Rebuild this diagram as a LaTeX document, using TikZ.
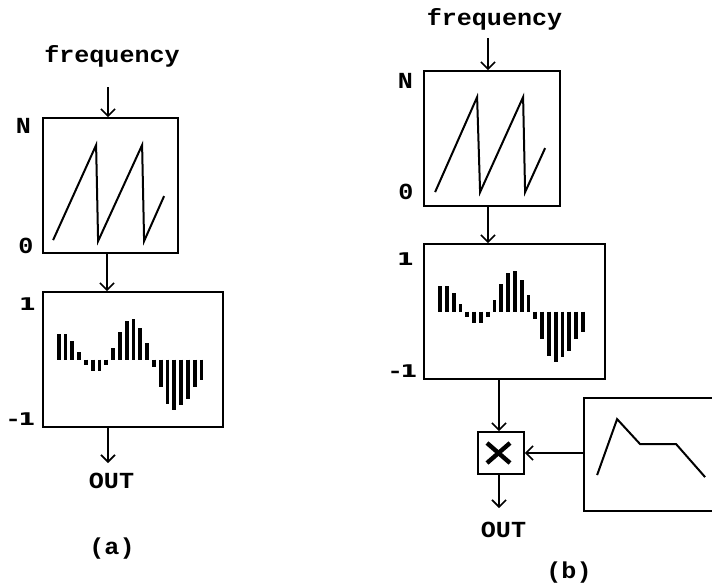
\documentclass[tikz,border=0pt]{standalone}
\usepackage{fontspec}
\usepackage{graphicx}
\usetikzlibrary{arrows.meta}
\newfontfamily\cour{Liberation Mono}[FakeStretch=1.09]
\newfontfamily\numfont{DejaVu Sans}
\newcommand{\widenum}[1]{\scalebox{1.4}[1]{#1}}
\tikzset{
  blk/.style={draw, line width=1.8pt, inner sep=0pt, minimum width=135pt, minimum height=135pt},
  wide/.style={blk, minimum width=180pt},
  arr/.style={line width=1.6pt, -{Straight Barb[length=7pt,width=14pt,line width=1.6pt]}},
  wave/.style={line width=2pt, line join=miter},
  bar/.style={line width=3.8pt, line cap=butt},
  txt/.style={font=\cour\bfseries\fontsize{23}{27}\selectfont, inner sep=0pt, anchor=base},
  num/.style={font=\numfont\bfseries\fontsize{17.5}{21}\selectfont, inner sep=0pt, anchor=center}
}
\begin{document}
\begin{tikzpicture}[x=1pt,y=-1pt]
\useasboundingbox (0,0) rectangle (712,584);
% ---------------- (a) ----------------
\node[txt] (freqA) at (112,62) {frequency};
\node[blk] (sawA) at (110.5,185.5) {};
\node[wide] (sinA) at (133,359.5) {};
\node[txt] (NA) at (23.5,133) {N};
\node[txt] (zA) at (26,253) {0};
\node[num] (oneA) at (27.5,304) {\widenum{1}};
\node[num] (moneA) at (21.7,419.5) {\widenum{-1}};
\node[txt] (outA) at (111.5,488) {OUT};
\node[txt] (labA) at (112,554) {(a)};
\coordinate (fa) at (108,87);
\coordinate (oa) at (108,463);
\draw[arr] (fa) -- (fa |- sawA.north);
\draw[arr] ([xshift=-3.5pt]sawA.south) -- ([xshift=-3.5pt]sawA.south |- sinA.north);
\draw[arr] (oa |- sinA.south) -- (oa);
\draw[wave] ([shift={(11,123)}]sawA.north west) -- ([shift={(54,28)}]sawA.north west)
  -- ([shift={(56,124)}]sawA.north west) -- ([shift={(100,28)}]sawA.north west)
  -- ([shift={(102,124)}]sawA.north west) -- ([shift={(122,79)}]sawA.north west);
\foreach \h [count=\i from 0] in {26,26,18.7,7.7,-5,-11.7,-11.7,-5,12,27.7,38.7,41,32,16.7,-7.3,-27.3,-44,-50,-45.7,-39,-27.3,-20.7}
  \draw[bar] ([shift={(16.5+6.8*\i,0)}]sinA.west) -- ++(0,-\h);
% ---------------- (b) ----------------
\node[txt] (freqB) at (494.5,25) {frequency};
\node[blk, minimum width=136pt] (sawB) at (492,138.5) {};
\node[wide, minimum width=181pt] (sinB) at (514.5,311.5) {};
\node[blk, minimum width=46pt, minimum height=42pt] (mult) at (501,453) {};
\node[blk, minimum height=113pt] (env) at (651.5,454.5) {};
\node[txt] (NB) at (405.5,88) {N};
\node[txt] (zB) at (406,199) {0};
\node[num] (oneB) at (405.5,259.5) {\widenum{1}};
\node[num] (moneB) at (403.7,371.5) {\widenum{-1}};
\node[txt] (outB) at (503.5,537) {OUT};
\node[txt] (labB) at (569,578) {(b)};
\coordinate (fb) at (488,38);
\coordinate (ob) at (499,508);
\draw[arr] (fb) -- (fb |- sawB.north);
\draw[arr] ([xshift=-4pt]sawB.south) -- ([xshift=-4pt]sawB.south |- sinB.north);
\draw[arr] ([xshift=-2pt]mult.north |- sinB.south) -- ([xshift=-2pt]mult.north);
\draw[arr] (mult.east -| env.west) -- (mult.east);
\draw[arr] ([xshift=-2pt]mult.south) -- (ob);
\draw[wave] ([shift={(12,122)}]sawB.north west) -- ([shift={(54,27)}]sawB.north west)
  -- ([shift={(57,122)}]sawB.north west) -- ([shift={(100,27)}]sawB.north west)
  -- ([shift={(102,122)}]sawB.north west) -- ([shift={(122,78)}]sawB.north west);
\foreach \h [count=\i from 0] in {26,26,18.7,7.7,-5,-11.7,-11.7,-5,12,27.7,38.7,41,32,16.7,-7.3,-27.3,-44,-50,-45.7,-39,-27.3,-20.7}
  \draw[bar] ([shift={(17+6.8*\i,0)}]sinB.west) -- ++(0,-\h);
\draw[wave] ([shift={(14,78)}]env.north west) -- ([shift={(34,22)}]env.north west)
  -- ([shift={(57,47)}]env.north west) -- ([shift={(93,47)}]env.north west)
  -- ([shift={(122,80)}]env.north west);
\draw[line width=4.4pt] ([shift={(-14,-10)}]mult.center) -- ([shift={(9,10)}]mult.center);
\draw[line width=4.4pt] ([shift={(-14,10)}]mult.center) -- ([shift={(9,-10)}]mult.center);
\end{tikzpicture}
\end{document}
